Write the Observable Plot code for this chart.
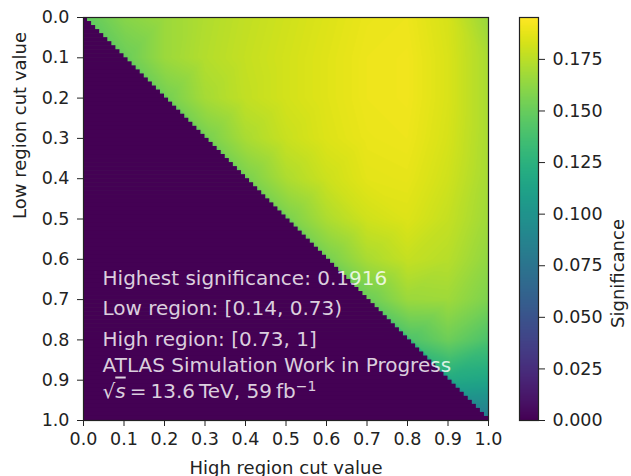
<!DOCTYPE html>
<html><head><meta charset="utf-8">
<script src="https://cdn.jsdelivr.net/npm/d3@7"></script>
<script src="https://cdn.jsdelivr.net/npm/@observablehq/plot@0.6"></script>
<style>
body{margin:0;background:#fff;}
#wrap{position:relative;width:631px;height:476px;overflow:hidden;background:#fff;}
#wrap svg{position:absolute;left:0;top:0;}
</style></head><body><div id="wrap"></div>
<script>
// ---- data ----
const lowCut  = [0.0, 0.1, 0.2, 0.3, 0.4, 0.5, 0.6, 0.7, 0.8, 0.9];           // rows (y)
const highCut = [0.1, 0.2, 0.3, 0.4, 0.5, 0.6, 0.7, 0.8, 0.9, 1.0];           // columns (x)
const significance = [
  [0.160, 0.166, 0.172, 0.177, 0.181, 0.185, 0.189, 0.190, 0.183, 0.165],
  [null,  0.166, 0.173, 0.178, 0.182, 0.186, 0.190, 0.191, 0.184, 0.170],
  [null,  null,  0.169, 0.177, 0.182, 0.186, 0.190, 0.191, 0.184, 0.170],
  [null,  null,  null,  0.170, 0.179, 0.185, 0.189, 0.190, 0.183, 0.170],
  [null,  null,  null,  null,  0.171, 0.180, 0.187, 0.188, 0.181, 0.169],
  [null,  null,  null,  null,  null,  0.171, 0.181, 0.185, 0.178, 0.167],
  [null,  null,  null,  null,  null,  null,  0.170, 0.178, 0.174, 0.163],
  [null,  null,  null,  null,  null,  null,  null,  0.166, 0.167, 0.157],
  [null,  null,  null,  null,  null,  null,  null,  null,  0.152, 0.140],
  [null,  null,  null,  null,  null,  null,  null,  null,  null,  0.115]
];
// values just above the diagonal
const edgeLow  = [0.00, 0.10, 0.20, 0.30, 0.40, 0.50, 0.60, 0.70, 0.80, 0.90, 0.98];
const edgeHigh = [0.01, 0.11, 0.21, 0.31, 0.41, 0.51, 0.61, 0.71, 0.81, 0.91, 0.99];
const edgeSig  = [0.148, 0.152, 0.155, 0.156, 0.157, 0.157, 0.156, 0.152, 0.141, 0.118, 0.085];
// cut grid of the scan (100 bins); cells with high cut <= low cut are 0
const scanBins = d3.range(100).map(i => i / 100);
const binWidth = 0.01;

const axisTicks = [0.0, 0.1, 0.2, 0.3, 0.4, 0.5, 0.6, 0.7, 0.8, 0.9, 1.0];
const colorTicks = [0.000, 0.025, 0.050, 0.075, 0.100, 0.125, 0.150, 0.175];
const sigMax = 0.1953;

const xLabel = "High region cut value";
const yLabel = "Low region cut value";
const cbLabel = "Significance";
const annotations = [
  "Highest significance: 0.1916",
  "Low region: [0.14, 0.73)",
  "High region: [0.73, 1]",
  "ATLAS Simulation Work in Progress",
  "SQRT_LINE"
];
const annotationX = [0.047, 0.047, 0.047, 0.047, 0.047];
const annotationY = [0.663, 0.737, 0.814, 0.879, 0.943];

// ---- tables for the library ----
const samples = [];
lowCut.forEach((lo, i) => highCut.forEach((hi, j) => {
  const v = significance[i][j];
  if (v != null) samples.push({low: lo, high: hi, v});
}));
edgeLow.forEach((lo, i) => samples.push({low: lo, high: edgeHigh[i], v: edgeSig[i]}));
const zeroRows = scanBins.map(b => ({low: b, lowNext: b + binWidth, high: b + binWidth, v: 0}));
const annTable = annotations.map((t, i) => ({t, x: annotationX[i], y: annotationY[i]}));

const font = "DejaVu Sans";
const colorOpts = {type: "linear", scheme: "viridis", domain: [0, sigMax]};

const main = Plot.plot({
  width: 631, height: 476,
  marginLeft: 83, marginRight: 143, marginTop: 17, marginBottom: 56,
  style: {fontFamily: font, fontSize: "17.5px", color: "#222", background: "transparent", overflow: "visible"},
  x: {domain: [0, 1], label: null},
  y: {domain: [0, 1], reverse: true, label: null},
  color: colorOpts,
  marks: [
    Plot.raster(samples, {x: "high", y: "low", fill: "v", interpolate: "barycentric", x1: 0, x2: 1, y1: 0, y2: 1}),
    Plot.rect(zeroRows, {x1: 0, x2: "high", y1: "low", y2: "lowNext", fill: "v", insetBottom: -0.6}),
    Plot.frame({stroke: "#222", strokeWidth: 1.2}),
    Plot.axisX({ticks: axisTicks, tickFormat: ".1f", tickSize: 6, tickPadding: 6, label: null, stroke: "#222"}),
    Plot.axisY({ticks: axisTicks, tickFormat: ".1f", tickSize: 6, tickPadding: 8, label: null, stroke: "#222"}),
    Plot.text(annTable, {x: "x", y: "y", text: "t", textAnchor: "start", lineAnchor: "bottom", fill: "white", fillOpacity: 0.82, fontSize: 20}),
    Plot.text([xLabel], {frameAnchor: "bottom", dy: 53, lineAnchor: "bottom", fontSize: 18, fill: "#222"}),
    Plot.text([yLabel], {frameAnchor: "left", dx: -58, rotate: -90, lineAnchor: "bottom", fontSize: 18, fill: "#222"})
  ]
});

// mathtext line
d3.select(main).selectAll("text").filter(function() { return this.textContent === "SQRT_LINE"; })
  .each(function() {
    const t = d3.select(this);
    t.text(null);
    t.append("tspan").text("\u221A");
    t.append("tspan").attr("font-style", "italic").style("text-decoration", "overline").text("s");
    t.append("tspan").text("\u2009=\u200913.6\u2009TeV, 59\u2009fb");
    t.append("tspan").attr("dy", "-0.45em").attr("font-size", "0.7em").text("\u22121");
  });

const cbar = Plot.plot({
  width: 631, height: 476,
  marginLeft: 519, marginRight: 93, marginTop: 17, marginBottom: 56,
  style: {fontFamily: font, fontSize: "17.5px", color: "#222", background: "transparent", overflow: "visible"},
  x: {domain: [0, 1], axis: null},
  y: {domain: [0, sigMax], label: null, axis: null},
  color: colorOpts,
  marks: [
    Plot.raster({x1: 0, x2: 1, y1: 0, y2: sigMax, width: 1, height: 403, fill: (x, y) => y}),
    Plot.frame({stroke: "#222", strokeWidth: 1.2}),
    Plot.axisY({anchor: "right", ticks: colorTicks, tickFormat: ".3f", tickSize: 6, tickPadding: 8, label: null, stroke: "#222"}),
    Plot.text([cbLabel], {frameAnchor: "right", dx: 85, rotate: -90, lineAnchor: "bottom", fontSize: 18, fill: "#222"})
  ]
});

const wrap = document.getElementById("wrap");
wrap.appendChild(main);
wrap.appendChild(cbar);
</script></body></html>
